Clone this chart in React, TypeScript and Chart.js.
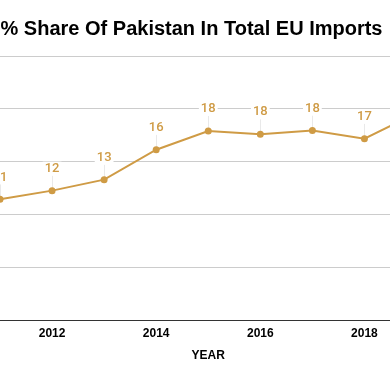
import React, { useEffect, useRef } from "react";
import { Chart, registerables } from "chart.js";

Chart.register(...registerables);

const chartTitle = "% Share Of Pakistan In Total EU Imports";
const xAxisTitle = "YEAR";
const years = ["2011", "2012", "2013", "2014", "2015", "2016", "2017", "2018", "2019"];
const shareValues = [11.44, 12.26, 13.3, 16.13, 17.9, 17.6, 17.95, 17.17, 19.6];
const yMin = 0;
const yMax = 25;
const yStep = 5;

const LINE_COLOR = "#CF9B45";

const valueLabels = {
  id: "valueLabels",
  beforeDatasetsDraw(chart: any) {
    const ctx = chart.ctx;
    const meta = chart.getDatasetMeta(0);
    ctx.save();
    ctx.strokeStyle = "#e9e9e9";
    ctx.lineWidth = 1;
    meta.data.forEach((pt: any) => {
      const ly = pt.y - 22;
      ctx.beginPath();
      ctx.moveTo(Math.round(pt.x) + 0.5, ly + 7);
      ctx.lineTo(Math.round(pt.x) + 0.5, pt.y);
      ctx.stroke();
    });
    ctx.restore();
  },
  afterDatasetsDraw(chart: any) {
    const ctx = chart.ctx;
    const meta = chart.getDatasetMeta(0);
    const data = chart.data.datasets[0].data;
    ctx.save();
    ctx.font = "500 13px Roboto";
    ctx.textAlign = "center";
    ctx.textBaseline = "middle";
    meta.data.forEach((pt: any, i: number) => {
      const txt = String(Math.round(data[i]));
      const ly = pt.y - 22;
      const w = ctx.measureText(txt).width;
      ctx.fillStyle = "#ffffff";
      ctx.fillRect(pt.x - w / 2 - 2, ly - 7, w + 4, 14);
      ctx.fillStyle = LINE_COLOR;
      ctx.fillText(txt, pt.x, ly);
    });
    ctx.restore();
  },
};

export default function App() {
  const ref = useRef<HTMLCanvasElement | null>(null);

  useEffect(() => {
    if (!ref.current) return;
    const chart = new Chart(ref.current, {
      type: "line",
      data: {
        labels: years,
        datasets: [
          {
            data: shareValues,
            borderColor: LINE_COLOR,
            backgroundColor: LINE_COLOR,
            borderWidth: 2,
            pointRadius: 3.5,
            pointBackgroundColor: LINE_COLOR,
            pointBorderWidth: 0,
            tension: 0,
          },
        ],
      },
      options: {
        animation: false,
        responsive: true,
        maintainAspectRatio: false,
        layout: { padding: 0 },
        plugins: {
          legend: { display: false },
          tooltip: { enabled: false },
          title: {
            display: true,
            text: chartTitle,
            color: "#000",
            font: { family: "Liberation Sans", size: 20, weight: "bold" },
            padding: { top: 17, bottom: 15 },
          },
        },
        scales: {
          x: {
            offset: false,
            grid: { display: false, drawTicks: false },
            border: { display: true, color: "#333333", width: 1 },
            ticks: {
              autoSkip: false,
              maxRotation: 0,
              padding: 6.5,
              color: "#000",
              font: { family: "Liberation Sans", size: 12, weight: "bold" },
              callback: function (this: any, value: any) {
                const lab = years[value as number];
                return Number(lab) % 2 === 0 ? lab : "";
              },
            },
            title: {
              display: true,
              text: xAxisTitle,
              color: "#000",
              font: { family: "Liberation Sans", size: 12, weight: "bold" },
              padding: { top: 0.5, bottom: 10.5 },
            },
          },
          y: {
            min: yMin,
            max: yMax,
            ticks: { display: false, stepSize: yStep },
            grid: {
              drawTicks: false,
              color: (c: any) => (c.tick && c.tick.value === 0 ? "rgba(0,0,0,0)" : "#cccccc"),
            },
            border: { display: false },
            afterFit: (s: any) => {
              s.width = 40;
            },
          },
          y2: {
            position: "right",
            display: true,
            ticks: { display: false },
            grid: { display: false, drawTicks: false },
            border: { display: false },
            afterFit: (s: any) => {
              s.width = 4;
            },
          },
        },
      },
      plugins: [valueLabels],
    });
    return () => chart.destroy();
  }, []);

  return (
    <div style={{ position: "fixed", left: 0, top: 0, width: 390, height: 371, overflow: "hidden", background: "#fff" }}>
      <div style={{ position: "absolute", left: -40, top: 0, width: 463, height: 373 }}>
        <canvas ref={ref} />
      </div>
    </div>
  );
}
